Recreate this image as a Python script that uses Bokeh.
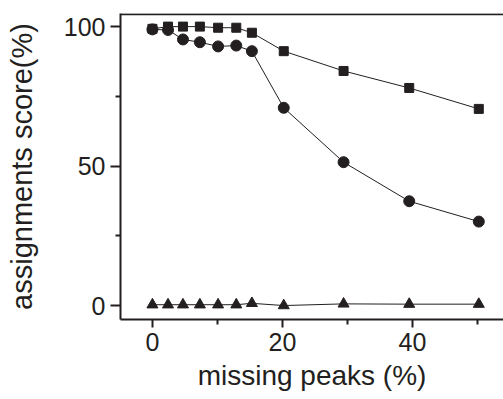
from bokeh.plotting import figure
from bokeh.models import FixedTicker, Range1d, Span
from bokeh.embed import file_html
from bokeh.resources import INLINE

missing = [0, 2.4, 4.7, 7.3, 10.1, 12.9, 15.3, 20.2, 29.4, 39.5, 50.2]
squares = [99.2, 100, 100, 100, 99.6, 99.6, 97.8, 91.2, 84.1, 78.0, 70.5]
circles = [99.0, 98.8, 95.4, 94.4, 92.9, 93.2, 91.2, 70.9, 51.4, 37.4, 30.1]
triangles = [0.3, 0.3, 0.3, 0.3, 0.3, 0.3, 0.8, 0.0, 0.6, 0.5, 0.5]

x_major = [0, 20, 40]
x_minor = [10, 30, 50]
y_major = [0, 50, 100]
y_minor = [25, 75]

INK = "#231f20"
FONT = "Liberation Sans"

p = figure(width=503, height=399, output_backend="svg", toolbar_location=None,
           x_range=Range1d(-4.91, 54.0), y_range=Range1d(-5.0, 104.7),
           min_border_left=120, min_border_right=0, min_border_top=13, min_border_bottom=80)
p.outline_line_color = None
p.grid.visible = False
p.background_fill_color = "white"
p.border_fill_color = "white"

for s, kind, size in [(squares, "square", 9), (circles, "circle", 11), (triangles, "triangle", 11)]:
    p.line(missing, s, line_color=INK, line_width=1)
    p.scatter(missing, s, marker=kind, size=size, fill_color=INK, line_color=INK)

p.xaxis.ticker = FixedTicker(ticks=x_major, minor_ticks=x_minor)
p.yaxis.ticker = FixedTicker(ticks=y_major, minor_ticks=y_minor)
p.xaxis.axis_label = "missing peaks (%)"
p.yaxis.axis_label = "assignments score(%)"

for ax in (p.xaxis[0], p.yaxis[0]):
    ax.axis_line_width = 2
    ax.axis_line_color = INK
    ax.major_tick_line_color = INK
    ax.major_tick_line_width = 2
    ax.minor_tick_line_color = INK
    ax.minor_tick_line_width = 2
    ax.major_tick_in = 0
    ax.minor_tick_in = 0
    ax.minor_tick_out = 5
    ax.major_label_text_font = FONT
    ax.major_label_text_font_size = "25px"
    ax.major_label_text_color = INK
    ax.axis_label_text_font = FONT
    ax.axis_label_text_font_style = "normal"
    ax.axis_label_text_color = INK

p.xaxis.major_tick_out = 8
p.yaxis.major_tick_out = 10
p.xaxis.axis_label_text_font_size = "28px"
p.yaxis.axis_label_text_font_size = "29px"
p.xaxis.major_label_standoff = 5
p.yaxis.major_label_standoff = 5
p.xaxis.axis_label_standoff = 6
p.yaxis.axis_label_standoff = 23

top_line = Span(location=104.4, dimension="width", line_color=INK, line_width=2)
p.add_layout(top_line)

open("out.html", "w").write(file_html(p, INLINE))
